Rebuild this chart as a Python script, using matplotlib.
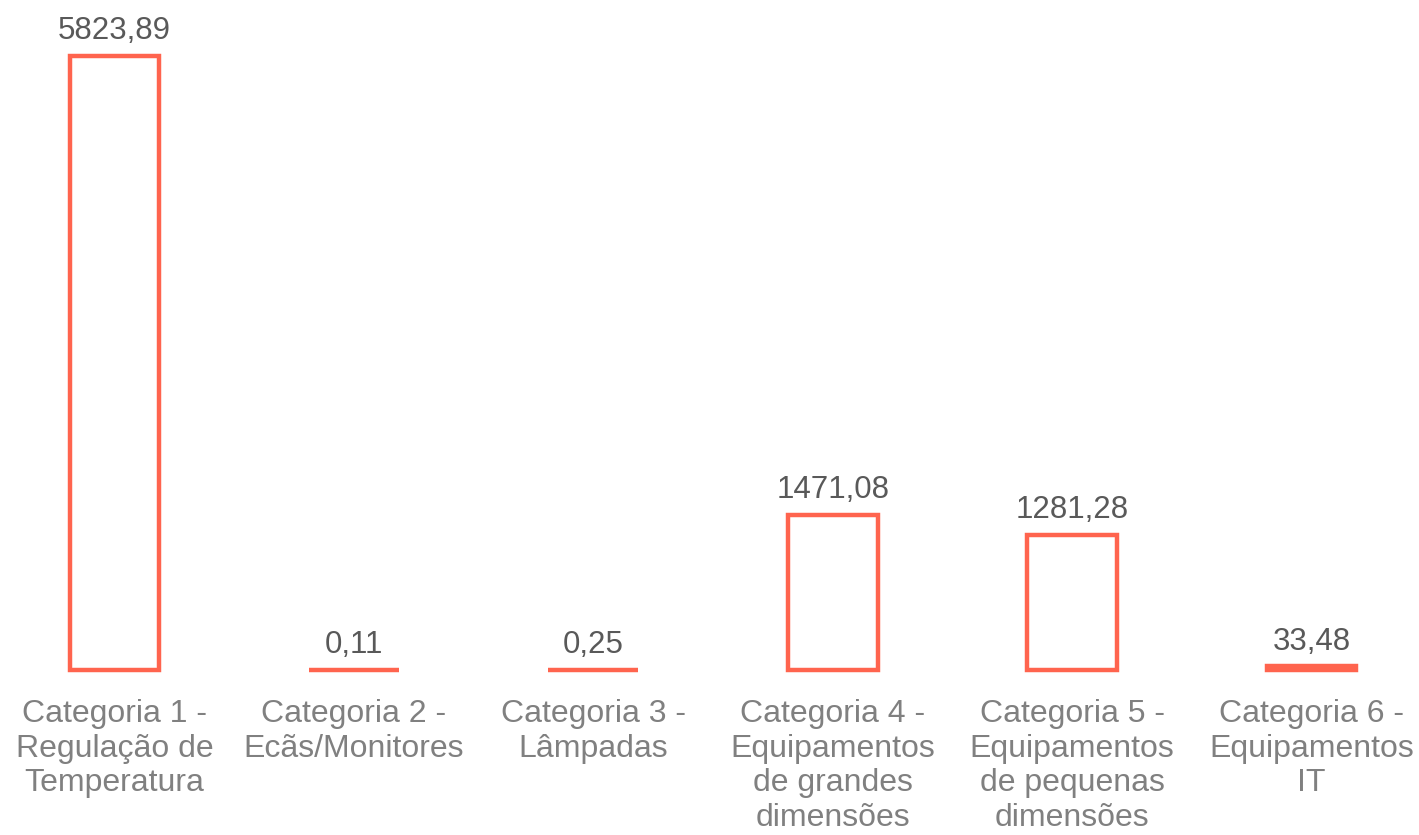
import matplotlib
matplotlib.use("Agg")
import matplotlib.pyplot as plt

categories = [
    "Categoria 1 -\nRegulação de\nTemperatura",
    "Categoria 2 -\nEcãs/Monitores",
    "Categoria 3 -\nLâmpadas",
    "Categoria 4 -\nEquipamentos\nde grandes\ndimensões",
    "Categoria 5 -\nEquipamentos\nde pequenas\ndimensões",
    "Categoria 6 -\nEquipamentos\nIT",
]
values = [5823.89, 0.11, 0.25, 1471.08, 1281.28, 33.48]
value_labels = ["5823,89", "0,11", "0,25", "1471,08", "1281,28", "33,48"]

plt.rcParams["font.family"] = ["Liberation Sans", "DejaVu Sans"]

W, H, DPI = 1419, 835, 100
fig = plt.figure(figsize=(W / DPI, H / DPI), dpi=DPI)
base_px = 670
ax = fig.add_axes([0, (H - base_px) / H, 1, base_px / H])

edge = "#FF644E"
x = list(range(len(categories)))
bars = ax.bar(x, values, width=0.375, facecolor="white", edgecolor=edge, linewidth=3.2)
for b in bars:
    b.set_clip_on(False)

ax.set_xlim(-114.5 / 239.4, (W - 114.5) / 239.4)
ax.set_ylim(0, 5823.89 * base_px / 614)

for xi, v, lab in zip(x, values, value_labels):
    ax.annotate(lab, (xi, v), xytext=(0, 7), textcoords="offset points",
                ha="center", va="bottom", fontsize=22.5, color="#595959")

ax.set_xticks(x)
ax.set_xticklabels(categories, fontsize=23, color="#808080", linespacing=1.2)
ax.tick_params(axis="x", length=0, pad=21)
ax.set_yticks([])
for s in ax.spines.values():
    s.set_visible(False)
ax.patch.set_alpha(0)

fig.savefig("out.png", dpi=DPI)
